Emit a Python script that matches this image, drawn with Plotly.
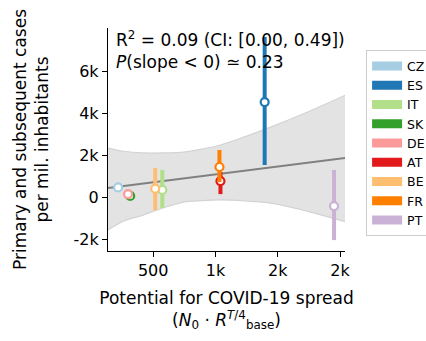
import plotly.graph_objects as go

countries = ["CZ", "ES", "IT", "SK", "DE", "AT", "BE", "FR", "PT"]
colors = ["#a6cee3", "#1f78b4", "#b2df8a", "#33a02c", "#fb9a99", "#e31a1c", "#fdbf6f", "#ff7f00", "#cab2d6"]
potential = [218, 1395, 573, 315, 298, 1040, 516, 1032, 1952]
cases = [460, 4520, 340, 50, 143, 760, 400, 1430, -430]
err_hi = [520, 7620, 1290, 120, 200, 1190, 1380, 2240, 1290]
err_lo = [400, 1520, -520, -20, 90, 140, -620, 710, -2050]

band_x = [137, 260, 419, 580, 742, 890, 1040, 1240, 1443, 1740, 2048]
band_hi = [2330, 2180, 2100, 2100, 2140, 2280, 2480, 2880, 3330, 4050, 4860]
band_lo = [-1570, -1150, -860, -520, -240, -170, -140, -190, -290, -680, -1190]

fit_x = [137, 2048]
fit_y = [430, 1860]

xticks = [500, 1000, 1500, 2000]
xticklabels = ["500", "1k", "2k", "2k"]
yticks = [-2000, 0, 2000, 4000, 6000]
yticklabels = ["-2k", "0", "2k", "4k", "6k"]

FONT = "DejaVu Sans"
fig = go.Figure()

fig.add_trace(go.Scatter(x=band_x, y=band_hi, mode="lines", line=dict(color="#d3d3d3", width=1.2, shape="spline"),
                         showlegend=False, hoverinfo="skip"))
fig.add_trace(go.Scatter(x=band_x, y=band_lo, mode="lines", line=dict(color="#d3d3d3", width=1.2, shape="spline"),
                         fill="tonexty", fillcolor="rgba(200,200,200,0.5)", showlegend=False, hoverinfo="skip"))
fig.add_trace(go.Scatter(x=fit_x, y=fit_y, mode="lines", line=dict(color="#808080", width=2),
                         showlegend=False, hoverinfo="skip"))

for i, c in enumerate(countries):
    fig.add_trace(go.Scatter(
        x=[potential[i]], y=[cases[i]], mode="markers",
        marker=dict(size=8, color="white", line=dict(color=colors[i], width=2.2)),
        error_y=dict(type="data", symmetric=False,
                     array=[err_hi[i] - cases[i]], arrayminus=[cases[i] - err_lo[i]],
                     color=colors[i], thickness=4, width=0),
        showlegend=False))

for i, c in enumerate(countries):
    fig.add_trace(go.Scatter(x=[None], y=[None], mode="lines", name=c,
                             line=dict(color=colors[i], width=9)))

fig.update_layout(
    width=426, height=341,
    margin=dict(l=108, r=81, t=28, b=90, autoexpand=False),
    plot_bgcolor="white", paper_bgcolor="white",
    font=dict(family=FONT, size=16, color="black"),
    xaxis=dict(range=[137, 2040], tickvals=xticks, ticktext=xticklabels,
               showgrid=False, zeroline=False, showline=True, linecolor="black", linewidth=1.3,
               ticks="outside", ticklen=5, tickwidth=1.3, tickcolor="black",
               tickfont=dict(size=16),
               title=dict(text="Potential for COVID-19 spread<br>(<i>N</i><sub>0</sub> · <i>R</i><sup><i>T</i>/4</sup><sub>base</sub>)",
                          font=dict(size=17), standoff=12)),
    yaxis=dict(range=[-2570, 8050], tickvals=yticks, ticktext=yticklabels,
               showgrid=False, zeroline=False, showline=True, linecolor="black", linewidth=1.3,
               ticks="outside", ticklen=5, tickwidth=1.3, tickcolor="black",
               tickfont=dict(size=16),
               title=dict(text="Primary and subsequent cases<br>per mil. inhabitants", font=dict(size=17), standoff=20)),
    legend=dict(x=1.089, y=0.90, xanchor="left", yanchor="top", traceorder="normal",
                bordercolor="#cccccc", borderwidth=1, bgcolor="white",
                font=dict(size=12.5), tracegroupgap=0, itemwidth=30),
    annotations=[
        dict(xref="paper", yref="paper", x=0.025, y=1.01, xanchor="left", yanchor="top", showarrow=False,
             align="left",
             text="R<sup>2</sup> = 0.09 (CI: [0.00, 0.49])<br><i>P</i>(slope < 0) ≃ 0.23",
             font=dict(size=17))
    ],
)

fig.write_html("out.html")
